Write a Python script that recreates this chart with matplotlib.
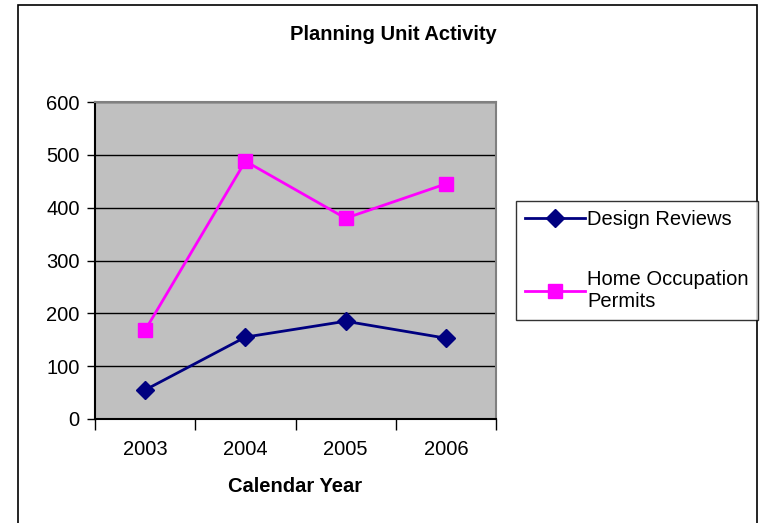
import matplotlib.pyplot as plt
from matplotlib.patches import Rectangle

plt.rcParams['font.family'] = ['Liberation Sans', 'DejaVu Sans']

years = ['2003', '2004', '2005', '2006']
design_reviews = [55, 155, 185, 153]
home_occupation = [168, 488, 380, 445]

W, H = 764, 523
fs = 14.5
fig = plt.figure(figsize=(W / 100, H / 100), dpi=100)

# outer chart border
fig.patches.append(Rectangle((18 / W, -0.01), (757 - 18) / W, (523 - 5) / H + 0.01,
                             transform=fig.transFigure, fill=False,
                             edgecolor='black', linewidth=1.2))

ax = fig.add_axes([95 / W, (H - 419) / H, (496 - 95) / W, (419 - 102) / H])
ax.set_facecolor('#C0C0C0')

x = list(range(len(years)))
ax.plot(x, design_reviews, color='#000080', linewidth=2, marker='D',
        markersize=9, label='Design Reviews', zorder=3)
ax.plot(x, home_occupation, color='#FF00FF', linewidth=2, marker='s',
        markersize=10, label='Home Occupation\nPermits', zorder=3)

ax.set_xlim(-0.5, 3.5)
ax.set_ylim(0, 600)
ax.set_yticks(range(0, 601, 100))
ax.yaxis.grid(True, color='black', linewidth=1)
ax.set_axisbelow(True)

ax.set_xticks([-0.5, 0.5, 1.5, 2.5, 3.5])
ax.set_xticklabels([])
ax.set_xticks(x, minor=True)
ax.set_xticklabels(years, minor=True)
ax.tick_params(axis='x', which='major', direction='out', length=8, width=1)
ax.tick_params(axis='x', which='minor', length=0, pad=15, labelsize=fs)
ax.tick_params(axis='y', direction='out', length=6, width=1, labelsize=fs, pad=5)

for side in ['top', 'right']:
    ax.spines[side].set_color('#808080')
    ax.spines[side].set_linewidth(1.5)
ax.spines['left'].set_linewidth(1.5)
ax.spines['bottom'].set_linewidth(1.5)

ax.set_xlabel('Calendar Year', fontsize=fs, fontweight='bold', labelpad=13)
fig.text(393 / W, 1 - 34 / H, 'Planning Unit Activity', ha='center', va='center',
         fontsize=fs, fontweight='bold')

leg = fig.legend(loc='upper left', bbox_to_anchor=(516 / W, 1 - 201 / H),
                 fontsize=fs, frameon=True, fancybox=False, edgecolor='black',
                 handlelength=3.0, handletextpad=0.1, labelspacing=2.05,
                 borderpad=0.45, borderaxespad=0)
leg.get_frame().set_linewidth(1)

fig.savefig('out.png', dpi=100)
